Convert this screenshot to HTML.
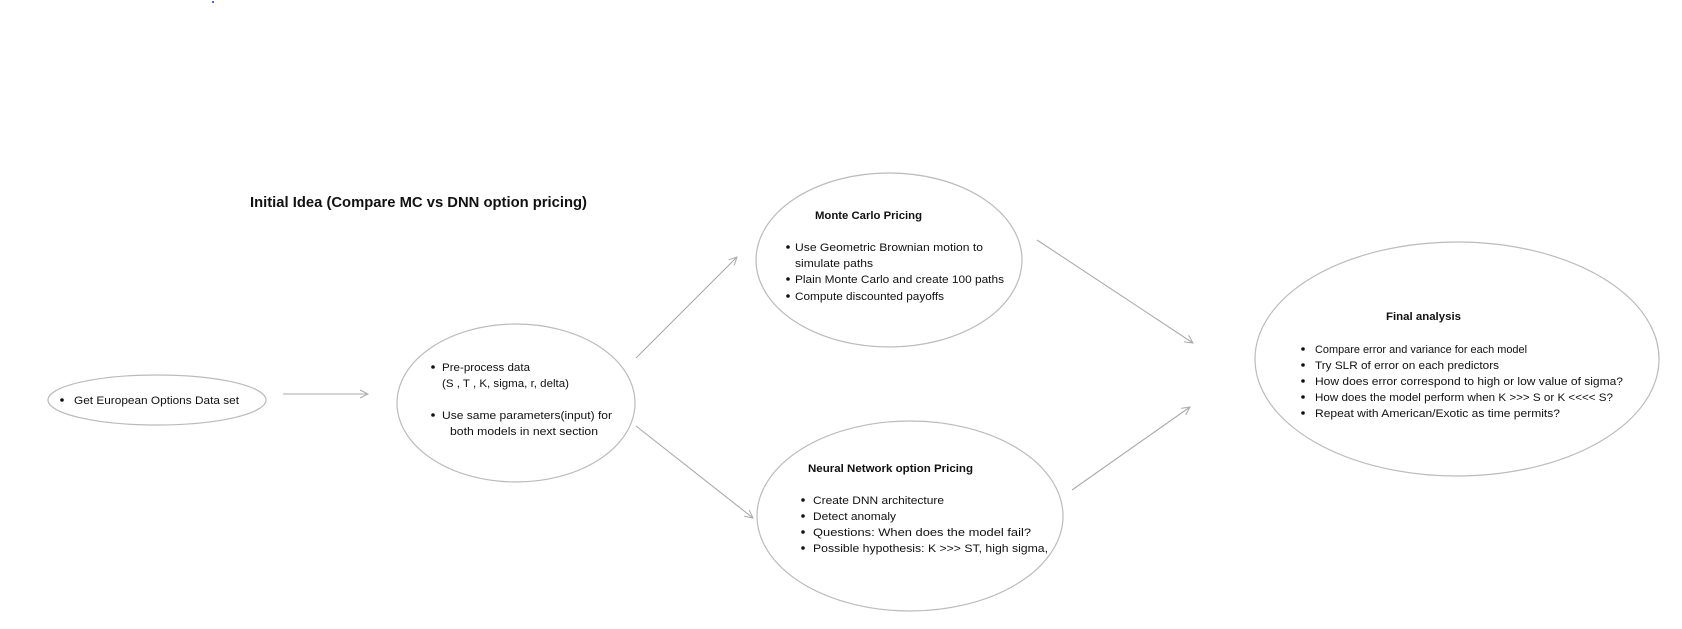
<!DOCTYPE html>
<html><head><meta charset="utf-8"><style>
html,body{margin:0;padding:0;background:#fff;}
svg{display:block;}
text{font-family:"Liberation Sans",sans-serif;fill:#111;font-size:11px;}
.b{font-weight:bold;}
</style></head><body>
<svg width="1682" height="629" viewBox="0 0 1682 629" xmlns="http://www.w3.org/2000/svg">
<defs><marker id="a" markerWidth="10" markerHeight="10" refX="9" refY="5" orient="auto" markerUnits="userSpaceOnUse"><path d="M1,1 L9,5 L1,9" fill="none" stroke="#aaa" stroke-width="1"/></marker></defs>
<circle cx="213" cy="2" r="1" fill="#2233dd"/>
<text x="250" y="207" class="b" style="font-size:14.5px" textLength="337" lengthAdjust="spacingAndGlyphs">Initial Idea  (Compare MC vs DNN option pricing)</text>
<g fill="none" stroke="#bbb" stroke-width="1.2">
<ellipse cx="157" cy="400" rx="109" ry="25"/>
<ellipse cx="516" cy="403" rx="119" ry="79"/>
<ellipse cx="889" cy="260" rx="133" ry="87"/>
<ellipse cx="910" cy="516" rx="153" ry="95"/>
<ellipse cx="1457" cy="359" rx="202" ry="117"/>
</g>
<g stroke="#aaa" stroke-width="1.1" marker-end="url(#a)">
<line x1="283" y1="394" x2="368" y2="394"/>
<line x1="636" y1="358" x2="737" y2="257"/>
<line x1="636" y1="426" x2="753" y2="518"/>
<line x1="1037" y1="240" x2="1193" y2="343"/>
<line x1="1072" y1="490" x2="1190" y2="407"/>
</g>
<g fill="#111">
<circle cx="62" cy="400" r="1.8"/>
<circle cx="433" cy="367" r="1.8"/><circle cx="433" cy="415" r="1.8"/>
<circle cx="788" cy="247" r="1.8"/><circle cx="788" cy="279" r="1.8"/><circle cx="788" cy="296" r="1.8"/>
<circle cx="803" cy="500" r="1.8"/><circle cx="803" cy="516" r="1.8"/><circle cx="803" cy="532" r="1.8"/><circle cx="803" cy="548" r="1.8"/>
<circle cx="1303" cy="349" r="1.8"/><circle cx="1303" cy="365" r="1.8"/><circle cx="1303" cy="381" r="1.8"/><circle cx="1303" cy="397" r="1.8"/><circle cx="1303" cy="413" r="1.8"/>
</g>
<text x="74" y="404" textLength="165" lengthAdjust="spacingAndGlyphs">Get European Options Data set</text>
<text x="442" y="371" textLength="88" lengthAdjust="spacingAndGlyphs">Pre-process data</text>
<text x="442" y="387" textLength="127" lengthAdjust="spacingAndGlyphs">(S , T , K, sigma, r, delta)</text>
<text x="442" y="419" textLength="170" lengthAdjust="spacingAndGlyphs">Use same parameters(input) for</text>
<text x="450" y="435" textLength="148" lengthAdjust="spacingAndGlyphs">both models in next section</text>
<text x="815" y="219" class="b" textLength="107" lengthAdjust="spacingAndGlyphs">Monte Carlo Pricing</text>
<text x="795" y="251" textLength="188" lengthAdjust="spacingAndGlyphs">Use Geometric Brownian motion to</text>
<text x="795" y="267" textLength="78" lengthAdjust="spacingAndGlyphs">simulate paths</text>
<text x="795" y="283" textLength="209" lengthAdjust="spacingAndGlyphs">Plain Monte Carlo and create 100 paths</text>
<text x="795" y="300" textLength="149" lengthAdjust="spacingAndGlyphs">Compute discounted payoffs</text>
<text x="808" y="472" class="b" textLength="165" lengthAdjust="spacingAndGlyphs">Neural Network option Pricing</text>
<text x="813" y="504" textLength="131" lengthAdjust="spacingAndGlyphs">Create DNN architecture</text>
<text x="813" y="520" textLength="83" lengthAdjust="spacingAndGlyphs">Detect anomaly</text>
<text x="813" y="536" textLength="218" lengthAdjust="spacingAndGlyphs">Questions: When does the model fail?</text>
<text x="813" y="552" textLength="235" lengthAdjust="spacingAndGlyphs">Possible hypothesis: K &gt;&gt;&gt; ST, high sigma,</text>
<text x="1386" y="320" class="b" textLength="75" lengthAdjust="spacingAndGlyphs">Final analysis</text>
<text x="1315" y="353" textLength="212" lengthAdjust="spacingAndGlyphs">Compare error and variance for each model</text>
<text x="1315" y="369" textLength="184" lengthAdjust="spacingAndGlyphs">Try SLR of error on each predictors</text>
<text x="1315" y="385" textLength="308" lengthAdjust="spacingAndGlyphs">How does error correspond to high or low value of sigma?</text>
<text x="1315" y="401" textLength="298" lengthAdjust="spacingAndGlyphs">How does the model perform when K &gt;&gt;&gt; S or K &lt;&lt;&lt;&lt; S?</text>
<text x="1315" y="417" textLength="245" lengthAdjust="spacingAndGlyphs">Repeat with American/Exotic as time permits?</text>
</svg>
</body></html>
